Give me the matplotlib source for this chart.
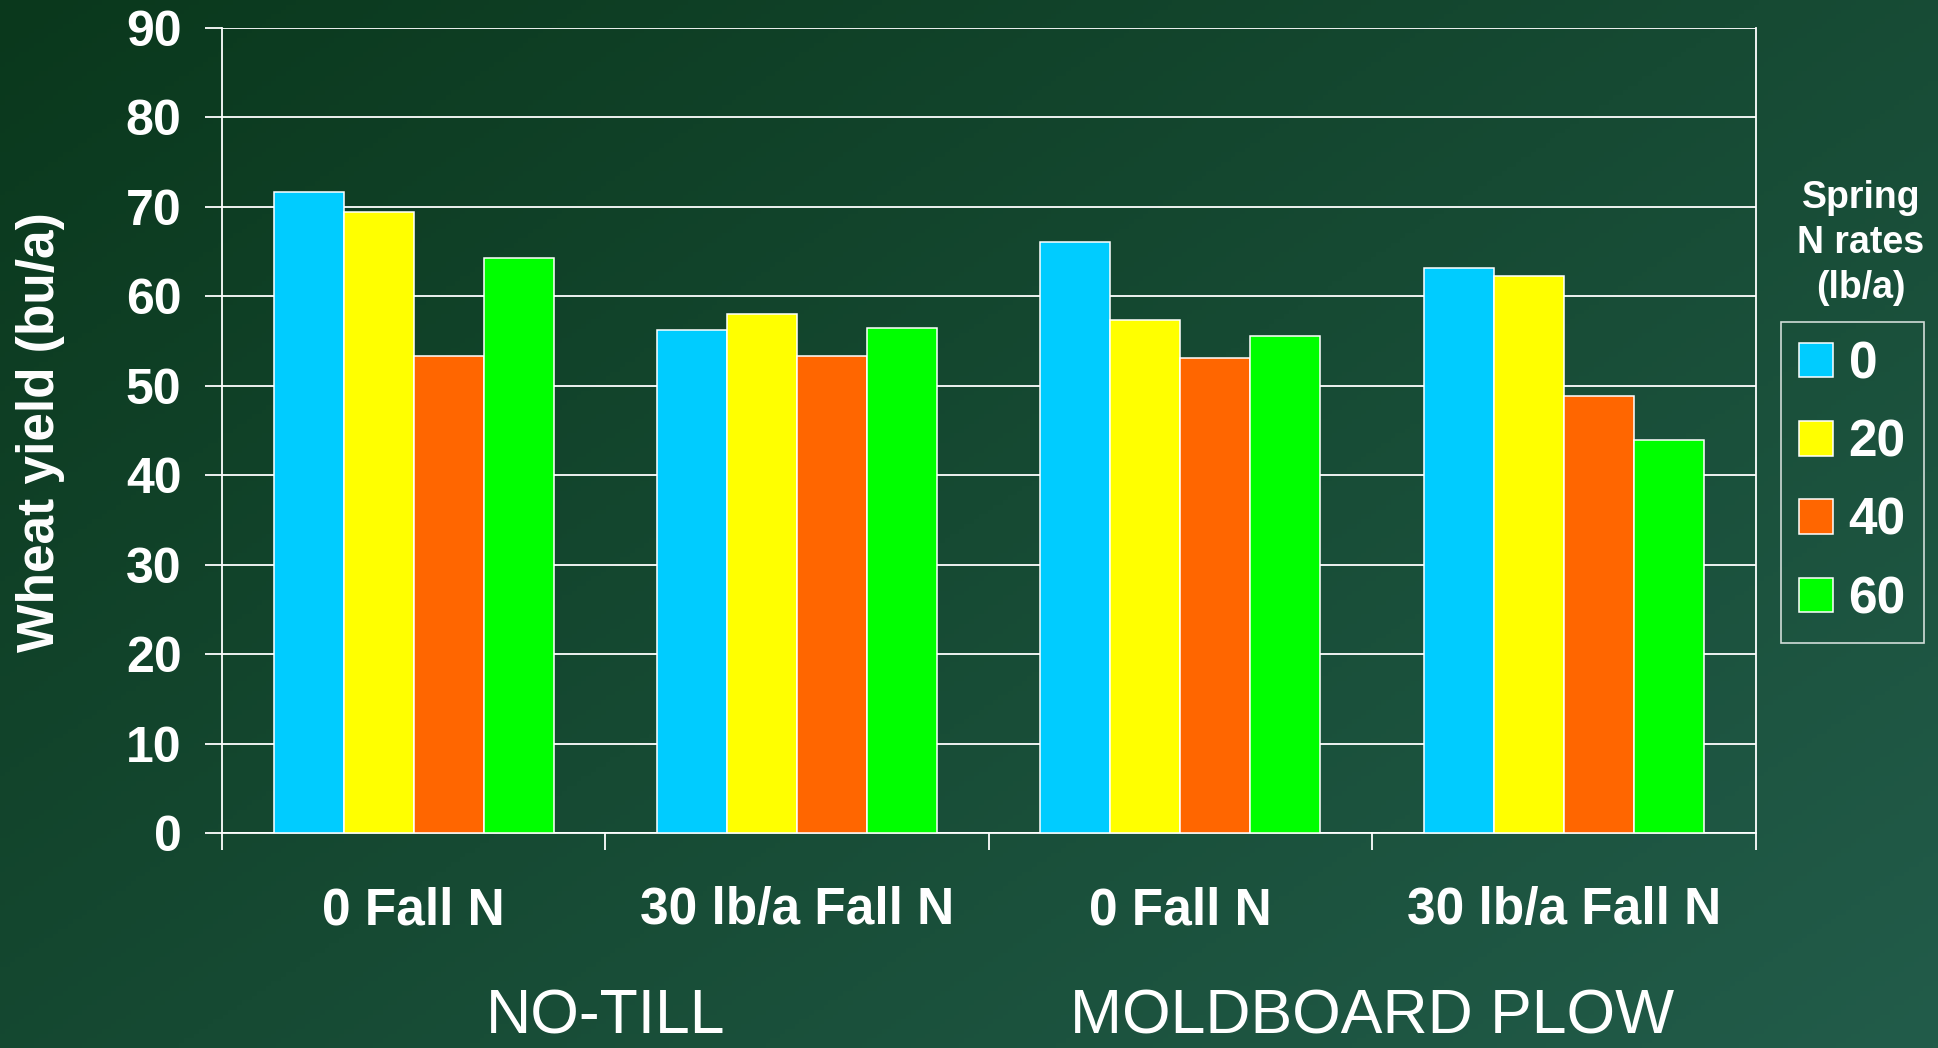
import numpy as np
import matplotlib
matplotlib.use("Agg")
import matplotlib.pyplot as plt
import matplotlib.transforms as mtransforms
from matplotlib.patches import Patch

# ---- data ----
categories = ["0 Fall N", "30 lb/a Fall N", "0 Fall N", "30 lb/a Fall N"]
groups = ["NO-TILL", "MOLDBOARD PLOW"]
spring_rates = ["0", "20", "40", "60"]
rate_0 = [71.6, 56.2, 66.1, 63.2]
rate_20 = [69.4, 58.0, 57.4, 62.3]
rate_40 = [53.3, 53.3, 53.1, 48.9]
rate_60 = [64.3, 56.4, 55.6, 43.9]
series = [rate_0, rate_20, rate_40, rate_60]
colors = ["#00CCFF", "#FFFF00", "#FF6600", "#00FF00"]
yticks = [0, 10, 20, 30, 40, 50, 60, 70, 80, 90]

W, H = 1938, 1048
fig = plt.figure(figsize=(W / 100, H / 100), dpi=100)

# background gradient
bg = fig.add_axes([0, 0, 1, 1], zorder=-10)
bg.set_axis_off()
xx, yy = np.meshgrid(np.linspace(0, 1, 400), np.linspace(0, 1, 220))
t = np.clip((xx * 0.55 + yy * 0.45), 0, 1)
c0 = np.array([10, 56, 28]) / 255.0
c1 = np.array([34, 92, 74]) / 255.0
img = c0[None, None, :] * (1 - t[..., None]) + c1[None, None, :] * t[..., None]
bg.imshow(img, aspect="auto", extent=[0, 1, 0, 1], origin="upper")
bg.set_xlim(0, 1)
bg.set_ylim(0, 1)

left, right = 222 / W, 1755.5 / W
top, bottom = 1 - 27.7 / H, 1 - 833.3 / H
ax = fig.add_axes([left, bottom, right - left, top - bottom])
ax.set_facecolor("none")

x = np.arange(len(categories))
bw = 0.1826
for i, (vals, col) in enumerate(zip(series, colors)):
    ax.bar(x + (i - 1.5) * bw, vals, width=bw, color=col, edgecolor="white",
           linewidth=1.1, zorder=3, label=spring_rates[i])

ax.set_xlim(-0.5, len(categories) - 0.5)
ax.set_ylim(0, 90)
ax.set_yticks(yticks)
ax.yaxis.grid(True, color="white", linewidth=1.3, zorder=1)
ax.set_axisbelow(True)

ax.spines["top"].set_visible(False)
for s in ["left", "right", "bottom"]:
    ax.spines[s].set_color("white")
    ax.spines[s].set_linewidth(1.3)

ax.set_xticks(x)
ax.set_xticklabels(categories)
ax.set_xticks(np.arange(-0.5, len(categories)), minor=True)
ax.tick_params(axis="x", which="major", length=0, pad=38, labelsize=37,
               labelcolor="white")
ax.tick_params(axis="x", which="minor", length=12.2, width=1.3, color="white",
               direction="out")
ax.tick_params(axis="y", length=12.2, width=1.3, color="white", direction="out",
               pad=17, labelsize=36, labelcolor="white")
for lab in ax.get_xticklabels() + ax.get_yticklabels():
    lab.set_fontfamily("Liberation Sans")
    lab.set_fontweight("bold")

fig.text(41 / W, 1 - 432 / H, "Wheat yield (bu/a)", rotation=90, ha="center",
         va="center", color="white", fontsize=37, fontweight="bold",
         family="Liberation Sans")

# group labels
trans = mtransforms.blended_transform_factory(ax.transData, fig.transFigure)
for gi, g in enumerate(groups):
    fig.text(0.5 + 2 * gi, 0.001, g, transform=trans, ha="center",
             va="bottom", color="white", fontsize=45, family="Liberation Sans")

# legend title
fig.text(1861 / W, 1 - 180 / H, "Spring\nN rates\n(lb/a)", ha="center",
         va="top", color="white", fontsize=27, fontweight="bold",
         family="Liberation Sans", linespacing=1.33, multialignment="center")

handles = [Patch(facecolor=c, edgecolor="white", linewidth=1.1) for c in colors]
leg = fig.legend(handles, spring_rates, loc="upper left",
                 bbox_to_anchor=(1780.7 / W, 1 - 321.7 / H),
                 bbox_transform=fig.transFigure, borderaxespad=0,
                 prop={"family": "Liberation Sans", "weight": "bold", "size": 37},
                 handlelength=0.66, handleheight=0.66, handletextpad=0.3,
                 labelspacing=0.57, borderpad=0.36, frameon=True, fancybox=False)
leg.get_frame().set_edgecolor("white")
leg.get_frame().set_facecolor("none")
leg.get_frame().set_linewidth(1.2)
for txt in leg.get_texts():
    txt.set_color("white")

fig.savefig("out.png", dpi=100)
